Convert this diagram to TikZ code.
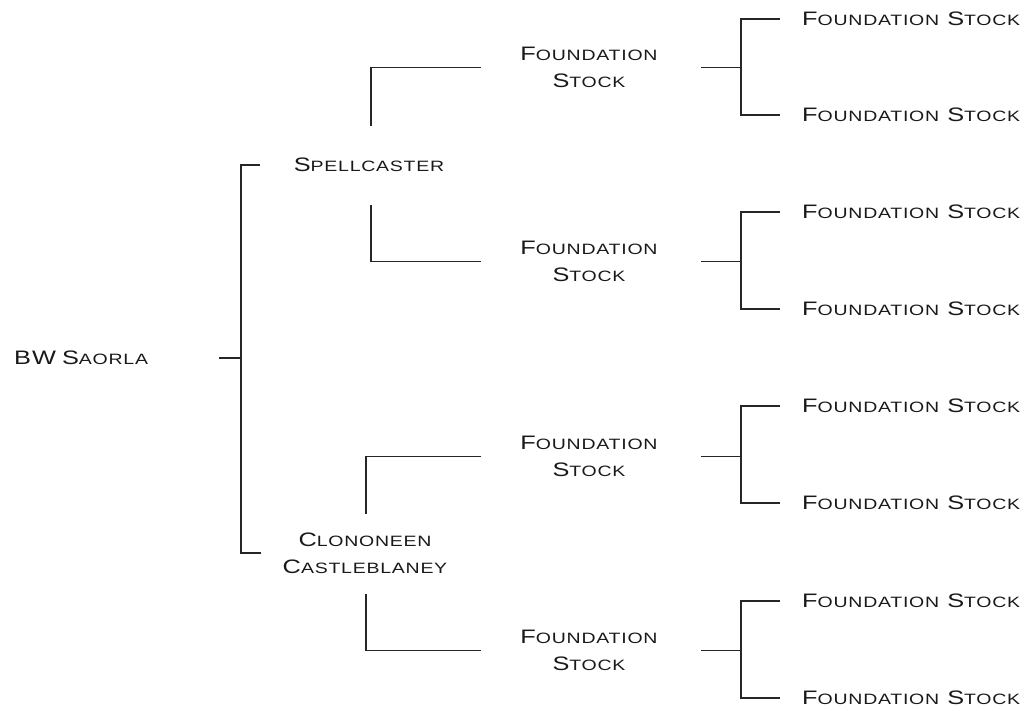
\documentclass[tikz,border=0pt]{standalone}
\usepackage{fontspec}
\usetikzlibrary{calc}
\newfontfamily\cpfont[FakeStretch=1.3,LetterSpace=5]{Liberation Sans}
\newcommand\SCw[2]{{\fontsize{19.5}{27}\selectfont #1}{\fontsize{15}{27}\selectfont #2}}
\begin{document}
\begin{tikzpicture}[x=1pt,y=-1pt]
\tikzset{
  txt/.style={inner sep=0pt,font=\cpfont\fontsize{19.5}{27}\selectfont,text=black!90,align=center},
  conn/.style={draw=black!85,line width=1.6pt}
}
\useasboundingbox (0,0) rectangle (1025,710);
% texts
\node[txt,anchor=west] (bw) at (14,358) {\SCw{BW}{}\hspace{-2pt} \SCw{S}{AORLA}};
\node[txt] (sp) at (369,165) {\SCw{S}{PELLCASTER}};
\node[txt] (cc) at (365,553) {\SCw{C}{LONONEEN}\\\SCw{C}{ASTLEBLANEY}};
\foreach \i/\y in {1/67.5,2/261.5,3/456.5,4/650.5}{
  \node[txt] (m\i) at (589,\y) {\SCw{F}{OUNDATION}\\\SCw{S}{TOCK}};
}
\foreach \i/\ya/\yb in {1/19/115,2/212/309,3/406/503,4/601/698}{
  \node[txt,anchor=west] (r\i a) at (802,\ya) {\SCw{F}{OUNDATION} \SCw{S}{TOCK}};
  \node[txt,anchor=west] (r\i b) at (802,\yb) {\SCw{F}{OUNDATION} \SCw{S}{TOCK}};
}
% connectors
\coordinate (j0) at (241,358);
\draw[conn] (219,358) -- (j0);
\draw[conn] ([xshift=-109]sp.center) -| (j0) |- ([xshift=-104]cc.center);
\draw[conn] (371,126) |- ([xshift=-108]m1.center);
\draw[conn] (371,205) |- ([xshift=-108]m2.center);
\draw[conn] (366,514) |- ([xshift=-108]m3.center);
\draw[conn] (366,594) |- ([xshift=-108]m4.center);
\foreach \i in {1,2,3,4}{
  \draw[conn] ([xshift=112]m\i.center) -- ++(40,0);
  \draw[conn] ([xshift=-22]r\i a.west) -| ([xshift=-61]r\i b.west) -- ([xshift=-22]r\i b.west);
}
\end{tikzpicture}
\end{document}
